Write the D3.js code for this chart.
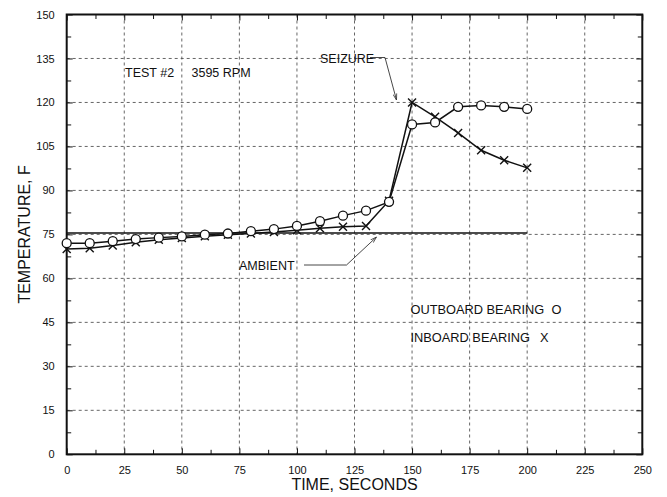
<!DOCTYPE html>
<html><head><meta charset="utf-8">
<script src="https://cdn.jsdelivr.net/npm/d3@7"></script>
<style>body{margin:0;background:#fff}svg{display:block}text{font-family:"Liberation Sans",Arial,sans-serif;fill:#111;white-space:pre}</style>
</head><body><svg id="c" width="667" height="497"></svg>
<script>
const times = [0,10,20,30,40,50,60,70,80,90,100,110,120,130,140,150,160,170,180,190,200];
const outboard = [72.0,72.0,72.7,73.4,73.9,74.3,74.9,75.3,76.1,76.8,77.9,79.5,81.4,83.1,86.1,112.5,113.2,118.5,119.0,118.5,117.8];
const inboard = [70.0,70.3,71.2,72.3,73.2,73.8,74.4,74.9,75.3,75.8,76.4,77.1,77.6,77.9,86.5,120.0,115.1,109.6,103.7,100.3,97.7];
const ambientTimes = [0,200];
const ambientValues = [75.5,75.5];
const xTicks = [0,25,50,75,100,125,150,175,200,225,250];
const yTicks = [0,15,30,45,60,75,90,105,120,135,150];
const xMinor = [12.5,37.5,62.5,87.5,112.5,137.5,162.5,187.5,212.5,237.5];
const yMinor = [7.5,22.5,37.5,52.5,67.5,82.5,97.5,112.5,127.5,142.5];

const L=66.7,R=642.3,T=14.5,B=454.3;
const svg=d3.select("#c");
const x=d3.scaleLinear().domain([0,250]).range([L,R]);
const y=d3.scaleLinear().domain([0,150]).range([B,T]);

// grid
const g=svg.append("g");
g.selectAll("line.gx").data(xTicks.slice(1,-1)).join("line")
 .attr("x1",d=>x(d)).attr("x2",d=>x(d)).attr("y1",T).attr("y2",B)
 .attr("stroke","#555").attr("stroke-width",0.9).attr("stroke-dasharray","3,3");
g.selectAll("line.gy").data(yTicks.slice(1,-1)).join("line")
 .attr("y1",d=>y(d)).attr("y2",d=>y(d)).attr("x1",L).attr("x2",R)
 .attr("stroke","#555").attr("stroke-width",0.9).attr("stroke-dasharray","3,3");

function ticks(axisFn,scale,vals,len,tr){
  const a=svg.append("g").attr("transform",tr).call(axisFn(scale).tickValues(vals).tickSize(len).tickFormat(""));
  a.select(".domain").remove(); a.selectAll("line").attr("stroke","#111").attr("stroke-width",1);
}
ticks(d3.axisTop,x,xTicks,6,`translate(0,${B})`);
ticks(d3.axisTop,x,xMinor,4.5,`translate(0,${B})`);
ticks(d3.axisBottom,x,xTicks,6,`translate(0,${T})`);
ticks(d3.axisBottom,x,xMinor,4.5,`translate(0,${T})`);
ticks(d3.axisRight,y,yTicks,6,`translate(${L},0)`);
ticks(d3.axisRight,y,yMinor,4.5,`translate(${L},0)`);
ticks(d3.axisLeft,y,yTicks,6,`translate(${R},0)`);
ticks(d3.axisLeft,y,yMinor,4.5,`translate(${R},0)`);

// tick labels
const xl=svg.append("g").attr("transform",`translate(0,${B})`).call(d3.axisBottom(x).tickValues(xTicks).tickSize(0).tickPadding(12));
xl.select(".domain").remove(); xl.selectAll("text").style("font-size","11px").attr("fill","#111");
const yl=svg.append("g").attr("transform",`translate(${L},0)`).call(d3.axisLeft(y).tickValues(yTicks).tickSize(0).tickPadding(12));
yl.select(".domain").remove(); yl.selectAll("text").style("font-size","11px").attr("fill","#111");

// frame
svg.append("rect").attr("x",L).attr("y",T).attr("width",R-L).attr("height",B-T)
 .attr("fill","none").attr("stroke","#111").attr("stroke-width",2);

// ambient
svg.append("path").datum(ambientTimes.map((t,i)=>[t,ambientValues[i]]))
 .attr("d",d3.line().x(d=>x(d[0])).y(d=>y(d[1]))).attr("fill","none").attr("stroke","#111").attr("stroke-width",1.6);

const line=d3.line().x(d=>x(d[0])).y(d=>y(d[1]));
const inD=times.map((t,i)=>[t,inboard[i]]), outD=times.map((t,i)=>[t,outboard[i]]);
svg.append("path").datum(inD).attr("d",line).attr("fill","none").attr("stroke","#111").attr("stroke-width",1.5);
svg.append("path").datum(outD).attr("d",line).attr("fill","none").attr("stroke","#111").attr("stroke-width",1.5);
const s=4;
svg.append("g").selectAll("path").data(inD).join("path")
 .attr("d",d=>`M${x(d[0])-s},${y(d[1])-s}L${x(d[0])+s},${y(d[1])+s}M${x(d[0])-s},${y(d[1])+s}L${x(d[0])+s},${y(d[1])-s}`)
 .attr("stroke","#111").attr("stroke-width",1.4).attr("fill","none");
svg.append("g").selectAll("circle").data(outD).join("circle")
 .attr("cx",d=>x(d[0])).attr("cy",d=>y(d[1])).attr("r",4.5)
 .attr("fill","#fff").attr("stroke","#111").attr("stroke-width",1.3);

// annotations
const txt=(t,xx,yy,fs,anchor)=>svg.append("text").attr("x",xx).attr("y",yy).attr("text-anchor",anchor||"start").style("font-size",fs+"px").text(t);
txt("TEST #2",125,77,12.5);
txt("3595 RPM",191.5,77,12.5);
txt("SEIZURE",320,62.5,12.5);
txt("AMBIENT",239,269.5,12.5);
txt("OUTBOARD BEARING",410.5,313.5,12.8);
txt("O",551.5,313.5,12.8);
txt("INBOARD BEARING",410.5,342,12.8);
txt("X",540,342,12.8);
svg.append("defs").append("marker").attr("id","ar").attr("viewBox","0 0 10 10").attr("refX",10).attr("refY",5)
 .attr("markerWidth",7).attr("markerHeight",7).attr("orient","auto")
 .append("path").attr("d","M0,2L10,5L0,8").attr("fill","none").attr("stroke","#333").attr("stroke-width",1.2);
svg.append("path").attr("d","M370,57.5L385,57.5L396.5,100").attr("fill","none").attr("stroke","#333").attr("stroke-width",0.9).attr("marker-end","url(#ar)");
svg.append("path").attr("d","M304,265L346.5,265L376.5,237").attr("fill","none").attr("stroke","#333").attr("stroke-width",0.9).attr("marker-end","url(#ar)");

// axis titles
txt("TIME, SECONDS",(L+R)/2,490,16,"middle");
svg.append("text").attr("transform",`translate(30,${(T+B)/2}) rotate(-90)`).attr("text-anchor","middle").style("font-size","16px").text("TEMPERATURE, F");
</script></body></html>
